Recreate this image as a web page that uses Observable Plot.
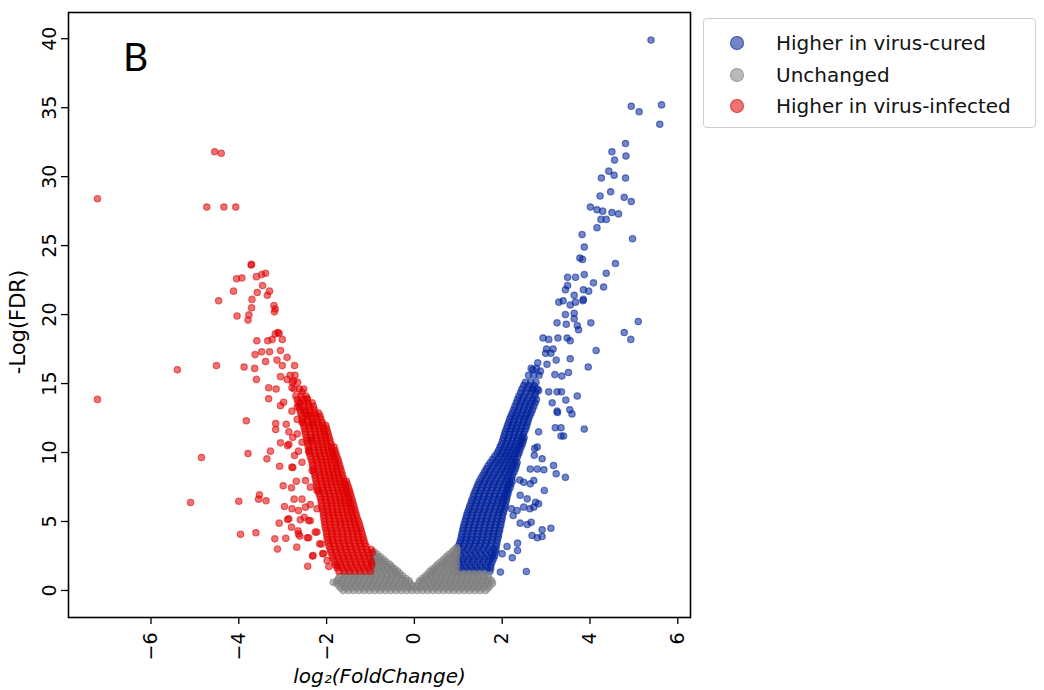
<!DOCTYPE html>
<html><head><meta charset="utf-8">
<script src="https://cdn.jsdelivr.net/npm/d3@7"></script>
<script src="https://cdn.jsdelivr.net/npm/@observablehq/plot@0.6"></script>
<style>
body{margin:0;background:#fff;font-family:"DejaVu Sans",sans-serif;}
#wrap{position:relative;width:1044px;height:690px;}
#legend{position:absolute;left:703px;top:18px;width:333px;height:110px;border:1px solid #cfcfcf;border-radius:4px;box-sizing:border-box;background:#fff;}
.row{position:absolute;left:0;height:26px;display:flex;align-items:center;font-size:20px;color:#111;white-space:nowrap;}
.mk{display:inline-block;width:14px;height:14px;border-radius:50%;box-sizing:border-box;position:absolute;left:26px;}
.lb{position:absolute;left:72px;}
</style></head>
<body><div id="wrap"><div id="chart"></div><div id="legend"></div></div>
<script>
// ---- data ----
const groups = ["Higher in virus-cured", "Unchanged", "Higher in virus-infected"];
const xTicks = [-6, -4, -2, 0, 2, 4, 6];
const yTicks = [0, 5, 10, 15, 20, 25, 30, 35, 40];

// isolated "Higher in virus-cured" points [log2FC, -logFDR]
const curedScatter = [[5.39,39.9],[4.94,35.1],[5.12,34.7],[5.63,35.2],[5.59,33.8],[4.81,32.4],[4.50,31.8],[4.82,31.5],[4.56,31.2],[4.43,30.4],[4.55,30.1],[4.81,29.9],[4.26,29.9],[4.47,28.9],[4.23,28.6],[4.78,28.5],[4.94,28.2],[4.01,27.8],[4.16,27.6],[4.29,27.5],[4.50,27.4],[4.65,27.3],[4.37,26.9],[4.25,26.9],[4.16,26.3],[4.97,25.5],[3.82,25.8],[3.87,24.9],[3.77,24.1],[3.83,24.0],[4.58,23.7],[4.37,23.0],[4.31,22.0],[4.08,22.3],[3.87,22.9],[3.67,22.7],[3.49,22.7],[3.97,21.7],[3.85,21.8],[3.85,21.1],[3.64,21.4],[3.49,22.1],[3.44,21.8],[3.29,20.9],[3.39,21.0],[3.55,20.7],[3.67,20.9],[3.84,21.0],[3.44,20.0],[3.64,20.1],[3.64,19.7],[3.74,18.9],[3.25,19.4],[3.46,19.3],[3.71,19.2],[3.48,18.3],[3.55,18.1],[4.02,19.4],[4.14,17.4],[3.96,16.2],[5.10,19.5],[4.78,18.7],[4.93,18.2],[3.71,14.1],[2.93,18.3],[3.06,18.2],[3.27,18.3],[3.01,17.5],[3.16,17.5],[2.99,17.2],[3.11,17.2],[3.23,16.7],[3.55,16.8],[2.81,16.5],[3.02,16.4],[2.70,16.0],[2.87,15.9],[3.20,15.65],[3.36,15.55],[3.51,15.8],[2.70,14.6],[2.83,14.5],[3.06,14.4],[3.25,14.4],[3.35,14.4],[3.45,13.8],[3.14,13.6],[3.25,13.0],[3.54,13.1],[3.59,12.8],[3.21,11.8],[3.34,11.8],[3.34,11.2],[3.87,11.7],[2.83,11.5],[2.80,10.4],[2.73,9.8],[2.91,9.55],[3.17,9.06],[3.23,8.46],[3.44,8.2],[2.74,10.3],[2.64,8.8],[2.80,8.8],[2.95,8.75],[2.40,8.0],[2.49,7.85],[2.64,7.73],[2.72,7.97],[2.96,7.25],[2.41,6.9],[2.57,6.64],[2.76,6.4],[2.83,6.28],[2.34,5.8],[2.49,6.04],[2.63,5.92],[2.72,6.04],[2.21,5.92],[2.25,5.43],[2.41,4.88],[2.57,4.78],[2.66,4.95],[2.91,4.4],[3.11,4.51],[2.68,3.99],[2.80,3.82],[2.91,3.91],[2.35,3.43],[2.35,2.9],[2.23,2.37],[2.11,3.19],[2.0,2.66],[1.96,1.33],[2.55,1.38],[3.26,12.9],[3.40,11.2]];

// dense "Higher in virus-cured" band: [-logFDR, [log2FC, ...]]
const curedBand = [
 [1.4,[1.0,1.12,1.24,1.36,1.48,1.6,1.72]],
 [1.62,[1.06,1.18,1.3,1.42,1.54,1.66,1.74]],
 [1.85,[1.02,1.14,1.26,1.38,1.5,1.62,1.74]],
 [2.07,[1.0,1.08,1.2,1.32,1.44,1.56,1.68,1.77]],
 [2.3,[1.0,1.12,1.24,1.36,1.48,1.6,1.72,1.8]],
 [2.52,[1.06,1.18,1.3,1.42,1.54,1.66,1.78,1.83]],
 [2.75,[1.02,1.14,1.26,1.38,1.5,1.62,1.74,1.84]],
 [2.97,[1.0,1.08,1.2,1.32,1.44,1.56,1.68,1.8,1.86]],
 [3.2,[1.0,1.12,1.24,1.36,1.48,1.6,1.72,1.86]],
 [3.42,[1.03,1.15,1.27,1.39,1.51,1.63,1.75,1.88]],
 [3.65,[1.05,1.17,1.29,1.41,1.53,1.65,1.77,1.89]],
 [3.87,[1.07,1.19,1.31,1.43,1.55,1.67,1.79,1.91]],
 [4.1,[1.08,1.2,1.32,1.44,1.56,1.68,1.8,1.92]],
 [4.32,[1.1,1.22,1.34,1.46,1.58,1.7,1.82,1.94]],
 [4.55,[1.11,1.23,1.35,1.47,1.59,1.71,1.83,1.95]],
 [4.77,[1.13,1.25,1.37,1.49,1.61,1.73,1.85,1.97]],
 [5.0,[1.15,1.27,1.39,1.51,1.63,1.75,1.87,1.98]],
 [5.22,[1.17,1.29,1.41,1.53,1.65,1.77,1.89,2.0]],
 [5.45,[1.19,1.31,1.43,1.55,1.67,1.79,1.91,2.01]],
 [5.67,[1.21,1.33,1.45,1.57,1.69,1.81,1.93,2.03]],
 [5.9,[1.24,1.36,1.48,1.6,1.72,1.84,1.96,2.05]],
 [6.12,[1.26,1.38,1.5,1.62,1.74,1.86,1.98,2.07]],
 [6.35,[1.29,1.41,1.53,1.65,1.77,1.89,2.0,2.08]],
 [6.57,[1.31,1.43,1.55,1.67,1.79,1.91,2.02,2.1]],
 [6.8,[1.34,1.46,1.58,1.7,1.82,1.94,2.05,2.11]],
 [7.02,[1.36,1.48,1.6,1.72,1.84,1.96,2.07,2.13]],
 [7.25,[1.39,1.51,1.63,1.75,1.87,1.99,2.1,2.15]],
 [7.47,[1.42,1.54,1.66,1.78,1.9,2.02,2.12,2.18]],
 [7.7,[1.45,1.57,1.69,1.81,1.93,2.05,2.14,2.2]],
 [7.92,[1.48,1.6,1.72,1.84,1.96,2.08,2.17,2.23]],
 [8.15,[1.52,1.64,1.76,1.88,2.0,2.11,2.21]],
 [8.37,[1.56,1.68,1.8,1.92,2.04,2.15,2.24]],
 [8.6,[1.6,1.72,1.84,1.96,2.07,2.18,2.27]],
 [8.82,[1.64,1.76,1.88,2.0,2.11,2.21,2.3]],
 [9.05,[1.68,1.8,1.92,2.03,2.14,2.24,2.32]],
 [9.27,[1.73,1.85,1.96,2.07,2.18,2.28,2.34]],
 [9.5,[1.78,1.9,2.01,2.12,2.22,2.31]],
 [9.72,[1.83,1.95,2.06,2.16,2.26,2.35]],
 [9.95,[1.88,1.99,2.1,2.2,2.3,2.38]],
 [10.17,[1.92,2.03,2.13,2.23,2.33,2.4]],
 [10.4,[1.95,2.06,2.17,2.27,2.37,2.43]],
 [10.62,[1.98,2.09,2.2,2.3,2.4,2.46]],
 [10.85,[2.01,2.12,2.23,2.33,2.43,2.48]],
 [11.07,[2.03,2.14,2.25,2.35,2.45,2.5]],
 [11.3,[2.05,2.16,2.27,2.38,2.48]],
 [11.52,[2.07,2.18,2.29,2.4,2.51]],
 [11.75,[2.1,2.21,2.32,2.43,2.54]],
 [11.97,[2.12,2.23,2.34,2.45,2.56]],
 [12.2,[2.15,2.26,2.37,2.48,2.58]],
 [12.42,[2.17,2.28,2.39,2.5,2.6]],
 [12.65,[2.2,2.31,2.42,2.53,2.63]],
 [12.87,[2.23,2.34,2.45,2.56,2.66]],
 [13.1,[2.26,2.37,2.48,2.59,2.69]],
 [13.35,[2.29,2.4,2.51,2.62,2.72]],
 [13.6,[2.32,2.43,2.54,2.65,2.75]],
 [13.85,[2.35,2.46,2.58,2.7,2.78]],
 [14.1,[2.38,2.5,2.62,2.74]],
 [14.35,[2.42,2.54,2.66,2.77]],
 [14.6,[2.45,2.57,2.69,2.8]],
 [14.85,[2.49,2.61,2.73]],
 [15.1,[2.53,2.65,2.77]],
 [15.6,[2.6,2.72,2.84]],
 [16.1,[2.66,2.78]]
];

// "Unchanged" points: [-logFDR, [log2FC, ...]] plus one isolated point
const unchangedBand = [
 [0.0,[-1.62,-1.5,-1.38,-1.26,-1.14,-1.02,-0.9,-0.78,-0.66,-0.54,-0.42,-0.3,-0.18,-0.06,0.06,0.18,0.3,0.42,0.54,0.66,0.78,0.9,1.02,1.14,1.26,1.38,1.5,1.62]],
 [0.17,[-1.68,-1.56,-1.44,-1.32,-1.2,-1.08,-0.96,-0.84,-0.72,-0.6,-0.48,-0.36,-0.24,-0.12,0.0,0.12,0.24,0.36,0.48,0.6,0.72,0.84,0.96,1.08,1.2,1.32,1.44,1.56,1.68]],
 [0.35,[-1.72,-1.6,-1.48,-1.36,-1.24,-1.12,-1.0,-0.88,-0.76,-0.64,-0.52,-0.4,-0.28,-0.16,-0.05,0.05,0.16,0.28,0.4,0.52,0.64,0.76,0.88,1.0,1.12,1.24,1.36,1.48,1.6,1.72]],
 [0.52,[-1.78,-1.66,-1.54,-1.42,-1.3,-1.18,-1.06,-0.94,-0.82,-0.7,-0.58,-0.46,-0.34,-0.22,-0.1,0.1,0.22,0.34,0.46,0.58,0.7,0.82,0.94,1.06,1.18,1.3,1.42,1.54,1.66,1.78]],
 [0.7,[-1.76,-1.64,-1.52,-1.4,-1.28,-1.16,-1.04,-0.92,-0.8,-0.68,-0.56,-0.44,-0.32,-0.2,-0.12,0.12,0.2,0.32,0.44,0.56,0.68,0.8,0.92,1.04,1.16,1.28,1.4,1.52,1.64,1.76]],
 [0.87,[-1.73,-1.61,-1.49,-1.37,-1.25,-1.13,-1.01,-0.89,-0.77,-0.65,-0.53,-0.41,-0.29,-0.19,0.18,0.27,0.38,0.5,0.62,0.74,0.86,0.98,1.1,1.22,1.34,1.46,1.58,1.7]],
 [1.05,[-1.7,-1.58,-1.46,-1.34,-1.22,-1.1,-0.98,-0.86,-0.74,-0.62,-0.5,-0.38,-0.27,0.25,0.36,0.48,0.6,0.72,0.84,0.96,1.08,1.2,1.32,1.44,1.56,1.68]],
 [1.22,[-1.6,-1.48,-1.36,-1.24,-1.12,-1.0,-0.88,-0.76,-0.64,-0.52,-0.42,-0.33,0.31,0.4,0.52,0.64,0.76,0.88,1.0,1.12,1.24,1.36,1.48,1.6]],
 [1.4,[-0.92,-0.8,-0.68,-0.56,-0.44,-0.38,0.36,0.44,0.56,0.68,0.8,0.92]],
 [1.57,[-0.94,-0.86,-0.74,-0.62,-0.5,-0.45,0.42,0.5,0.62,0.74,0.86,0.95]],
 [1.75,[-0.93,-0.82,-0.71,-0.61,-0.52,0.49,0.59,0.7,0.81,0.92]],
 [1.92,[-0.95,-0.87,-0.76,-0.66,-0.57,0.54,0.64,0.75,0.86,0.96]],
 [2.1,[-0.93,-0.83,-0.73,-0.65,0.61,0.71,0.81,0.92]],
 [2.27,[-0.95,-0.88,-0.79,-0.71,0.67,0.76,0.86,0.96]],
 [2.45,[-0.92,-0.84,-0.78,0.73,0.83,0.93]],
 [2.62,[-0.93,-0.85,0.79,0.88,0.97]],
 [2.8,[-0.92,0.86,0.95]],
 [2.95,[0.91,0.98]],
 [3.1,[0.96]]
];
const unchangedScatter = [[-1.85,0.6]];

// isolated "Higher in virus-infected" points
const infectedScatter = [[-7.22,28.4],[-7.22,13.85],[-4.55,31.8],[-4.40,31.7],[-4.73,27.8],[-4.34,27.8],[-4.07,27.8],[-5.40,16.0],[-4.85,9.64],[-5.10,6.38],[-4.51,16.3],[-4.46,21.0],[-3.72,23.6],[-3.71,23.65],[-4.05,22.6],[-3.93,22.65],[-3.60,22.75],[-3.48,22.9],[-3.39,23.0],[-4.12,21.7],[-3.46,22.1],[-3.58,21.6],[-3.30,21.7],[-3.35,21.4],[-3.70,21.1],[-3.71,20.5],[-3.20,20.65],[-3.17,20.4],[-3.19,20.2],[-4.04,19.9],[-3.77,19.98],[-3.79,19.6],[-3.17,18.6],[-3.08,18.65],[-3.01,18.2],[-3.59,18.1],[-3.34,18.1],[-3.24,18.2],[-3.11,18.7],[-3.63,17.1],[-3.48,17.3],[-3.30,17.3],[-3.05,17.4],[-3.88,16.2],[-3.64,16.1],[-3.60,15.3],[-3.39,16.6],[-3.13,16.7],[-2.90,16.9],[-2.73,16.3],[-3.01,16.3],[-3.32,14.7],[-3.15,14.6],[-3.32,13.9],[-3.05,15.5],[-2.90,15.3],[-2.75,15.2],[-2.79,14.7],[-3.05,13.4],[-2.79,13.0],[-2.56,14.4],[-2.44,13.9],[-2.60,13.6],[-2.98,13.65],[-2.67,13.3],[-2.52,13.0],[-2.41,12.7],[-3.83,12.3],[-3.79,9.93],[-4.0,6.47],[-3.96,4.08],[-3.61,4.18],[-3.53,6.93],[-3.55,6.62],[-3.38,6.5],[-3.36,9.54],[-3.28,10.1],[-3.16,12.1],[-3.16,11.67],[-3.07,9.0],[-2.99,7.59],[-2.96,6.09],[-3.08,4.88],[-3.18,3.74],[-3.12,3.0],[-2.93,3.79],[-2.68,3.14],[-2.32,2.49],[-2.43,1.76],[-2.92,12.05],[-2.86,11.5],[-2.80,7.44],[-2.74,6.62],[-2.69,7.92],[-2.89,5.14],[-2.80,4.59],[-2.65,4.32],[-2.61,3.94],[-2.44,3.82],[-2.77,8.91],[-2.77,11.1],[-2.56,6.62],[-2.51,5.31],[-2.37,5.05],[-2.26,4.23],[-2.09,2.68],[-2.12,3.36],[-2.67,12.4],[-2.56,12.2],[-2.33,12.1],[-2.67,11.35],[-3.05,10.7],[-2.86,10.6],[-2.56,10.75],[-2.37,10.9],[-2.89,10.5],[-2.73,9.78],[-2.56,9.30],[-2.64,10.1],[-2.41,10.1],[-2.33,8.7],[-2.79,8.94],[-2.48,7.97],[-2.37,7.49],[-2.22,7.25],[-2.79,5.92],[-2.64,5.8],[-2.48,6.04],[-2.37,6.23],[-2.22,5.92],[-2.86,5.2],[-2.60,5.12],[-2.41,5.07],[-2.64,4.1],[-2.41,3.82],[-2.22,4.23],[-2.16,3.38],[-2.31,2.54],[-2.07,2.66],[-1.99,2.17],[-1.95,1.74],[-1.76,1.81]];

// dense "Higher in virus-infected" band
const infectedBand = [
 [1.4,[-1.72,-1.6,-1.48,-1.36,-1.24,-1.12,-1.0]],
 [1.62,[-1.76,-1.64,-1.52,-1.4,-1.28,-1.16,-1.04]],
 [1.85,[-1.8,-1.68,-1.56,-1.44,-1.32,-1.2,-1.08,-0.97]],
 [2.07,[-1.82,-1.7,-1.58,-1.46,-1.34,-1.22,-1.1,-0.98]],
 [2.3,[-1.85,-1.73,-1.61,-1.49,-1.37,-1.25,-1.13,-1.01]],
 [2.52,[-1.87,-1.75,-1.63,-1.51,-1.39,-1.27,-1.15,-1.03]],
 [2.75,[-1.9,-1.78,-1.66,-1.54,-1.42,-1.3,-1.18,-1.06,-0.96]],
 [2.97,[-1.92,-1.8,-1.68,-1.56,-1.44,-1.32,-1.2,-1.08,-0.98]],
 [3.2,[-1.94,-1.82,-1.7,-1.58,-1.46,-1.34,-1.22,-1.1]],
 [3.42,[-1.96,-1.84,-1.72,-1.6,-1.48,-1.36,-1.24,-1.13]],
 [3.65,[-1.98,-1.86,-1.74,-1.62,-1.5,-1.38,-1.26,-1.15]],
 [3.87,[-1.99,-1.87,-1.75,-1.63,-1.51,-1.39,-1.28,-1.17]],
 [4.1,[-2.0,-1.88,-1.76,-1.64,-1.52,-1.4,-1.29,-1.19]],
 [4.32,[-2.01,-1.89,-1.77,-1.65,-1.53,-1.42,-1.31,-1.21]],
 [4.55,[-2.03,-1.91,-1.79,-1.67,-1.55,-1.44,-1.33,-1.23]],
 [4.77,[-2.04,-1.92,-1.8,-1.68,-1.57,-1.46,-1.35,-1.25]],
 [5.0,[-2.05,-1.93,-1.81,-1.69,-1.58,-1.47,-1.37,-1.27]],
 [5.22,[-2.06,-1.94,-1.83,-1.71,-1.6,-1.49,-1.39,-1.3]],
 [5.45,[-2.07,-1.95,-1.84,-1.73,-1.62,-1.51,-1.41,-1.32]],
 [5.67,[-2.08,-1.97,-1.86,-1.75,-1.64,-1.53,-1.43,-1.34]],
 [5.9,[-2.1,-1.98,-1.87,-1.76,-1.65,-1.54,-1.44,-1.36]],
 [6.12,[-2.11,-1.99,-1.88,-1.77,-1.66,-1.56,-1.46,-1.38]],
 [6.35,[-2.12,-2.0,-1.89,-1.78,-1.67,-1.57,-1.48,-1.4]],
 [6.57,[-2.13,-2.02,-1.91,-1.8,-1.69,-1.59,-1.5,-1.42]],
 [6.8,[-2.15,-2.03,-1.92,-1.81,-1.7,-1.6,-1.51,-1.44]],
 [7.02,[-2.17,-2.05,-1.94,-1.83,-1.72,-1.62,-1.53,-1.46]],
 [7.25,[-2.19,-2.07,-1.96,-1.85,-1.74,-1.64,-1.55,-1.48]],
 [7.47,[-2.21,-2.09,-1.98,-1.87,-1.76,-1.66,-1.57,-1.5]],
 [7.7,[-2.23,-2.11,-2.0,-1.89,-1.78,-1.68,-1.59,-1.53]],
 [7.92,[-2.24,-2.12,-2.01,-1.9,-1.8,-1.7,-1.6,-1.55]],
 [8.15,[-2.26,-2.14,-2.03,-1.92,-1.82,-1.72,-1.62]],
 [8.37,[-2.27,-2.15,-2.04,-1.94,-1.84,-1.74,-1.64]],
 [8.6,[-2.29,-2.17,-2.06,-1.95,-1.85,-1.75,-1.66]],
 [8.82,[-2.3,-2.18,-2.07,-1.97,-1.87,-1.77,-1.68]],
 [9.05,[-2.32,-2.2,-2.09,-1.98,-1.88,-1.78,-1.7]],
 [9.27,[-2.33,-2.21,-2.1,-2.0,-1.9,-1.8,-1.72]],
 [9.5,[-2.35,-2.23,-2.12,-2.01,-1.91,-1.82,-1.74]],
 [9.72,[-2.37,-2.25,-2.14,-2.03,-1.93,-1.84,-1.77]],
 [9.95,[-2.39,-2.27,-2.16,-2.05,-1.95,-1.86,-1.79]],
 [10.17,[-2.4,-2.28,-2.17,-2.07,-1.97,-1.88,-1.81]],
 [10.4,[-2.42,-2.3,-2.19,-2.08,-1.98,-1.89,-1.83]],
 [10.62,[-2.43,-2.31,-2.2,-2.1,-2.0,-1.9]],
 [10.85,[-2.45,-2.33,-2.22,-2.11,-2.01,-1.92]],
 [11.07,[-2.46,-2.34,-2.23,-2.13,-2.03,-1.94]],
 [11.3,[-2.48,-2.36,-2.25,-2.14,-2.04,-1.96]],
 [11.52,[-2.49,-2.37,-2.26,-2.16,-2.06,-1.98]],
 [11.75,[-2.51,-2.39,-2.28,-2.17,-2.07,-2.0]],
 [11.97,[-2.52,-2.4,-2.3,-2.19,-2.09,-2.02]],
 [12.2,[-2.54,-2.42,-2.31,-2.2,-2.1]],
 [12.42,[-2.55,-2.44,-2.33,-2.22,-2.13]],
 [12.65,[-2.57,-2.45,-2.34,-2.24,-2.15]],
 [12.87,[-2.59,-2.47,-2.36,-2.26,-2.18]],
 [13.1,[-2.61,-2.49,-2.38,-2.28]],
 [13.35,[-2.63,-2.51,-2.4,-2.3]],
 [13.6,[-2.65,-2.53,-2.42,-2.33]],
 [13.85,[-2.67,-2.55,-2.44]],
 [14.1,[-2.7,-2.58,-2.47]],
 [14.6,[-2.74,-2.62,-2.52]],
 [15.1,[-2.78,-2.66]],
 [15.6,[-2.83,-2.72]]
];

// ---- build the table ----
const colors = ["#00229b", "#808080", "#e00000"];
const data = [];
function addPoints(points, g) { for (const [x, y] of points) data.push({x, y, g}); }
function addBand(band, g) { for (const [y, xs] of band) for (const x of xs) data.push({x, y, g}); }
addBand(curedBand, groups[0]);
addPoints(curedScatter, groups[0]);
addBand(unchangedBand, groups[1]);
addPoints(unchangedScatter, groups[1]);
addBand(infectedBand, groups[2]);
addPoints(infectedScatter, groups[2]);

const font = "DejaVu Sans";
const chart = Plot.plot({
  width: 1044, height: 690,
  marginLeft: 68, marginRight: 354, marginTop: 12, marginBottom: 73,
  style: {fontFamily: font, fontSize: "19px", color: "#000", background: "#fff"},
  x: {domain: [-7.88, 6.29]},
  y: {domain: [-1.96, 41.9]},
  color: {domain: groups, range: colors},
  marks: [
    Plot.dot(data, {x: "x", y: "y", fill: "g", stroke: "g", r: 3.2, fillOpacity: 0.55, strokeOpacity: 0.55, strokeWidth: 1.2}),
    Plot.frame({stroke: "#000", strokeWidth: 1.6}),
    Plot.axisX(xTicks, {tickSize: 7, tickPadding: 8, tickRotate: -90, label: null, strokeWidth: 1.3, fontSize: 19}),
    Plot.axisY(yTicks, {tickSize: 7, tickPadding: 6, tickRotate: -90, label: null, strokeWidth: 1.3, fontSize: 19}),
    Plot.text(["log₂(FoldChange)"], {frameAnchor: "bottom", dy: 59, textAnchor: "middle", lineAnchor: "middle", fontStyle: "italic", fontSize: 20}),
    Plot.text(["-Log(FDR)"], {frameAnchor: "left", dx: -50, dy: 7, rotate: -90, textAnchor: "middle", lineAnchor: "middle", fontSize: 21}),
    Plot.text(["B"], {frameAnchor: "top-left", dx: 67, dy: 46, textAnchor: "middle", lineAnchor: "middle", fontSize: 39, fontFamily: "Lato"})
  ]
});
document.getElementById("chart").appendChild(chart);

// legend
const legendFill = ["rgba(0,34,155,0.55)", "rgba(128,128,128,0.55)", "rgba(224,0,0,0.55)"];
const legend = document.getElementById("legend");
const rowTops = [11, 42.5, 74];
groups.forEach((g, i) => {
  const row = document.createElement("div");
  row.className = "row";
  row.style.top = rowTops[i] + "px";
  const mk = document.createElement("span");
  mk.className = "mk";
  mk.style.background = legendFill[i];
  mk.style.border = "1.5px solid " + legendFill[i];
  const lb = document.createElement("span");
  lb.className = "lb";
  lb.textContent = g;
  row.appendChild(mk); row.appendChild(lb);
  legend.appendChild(row);
});
</script></body></html>
